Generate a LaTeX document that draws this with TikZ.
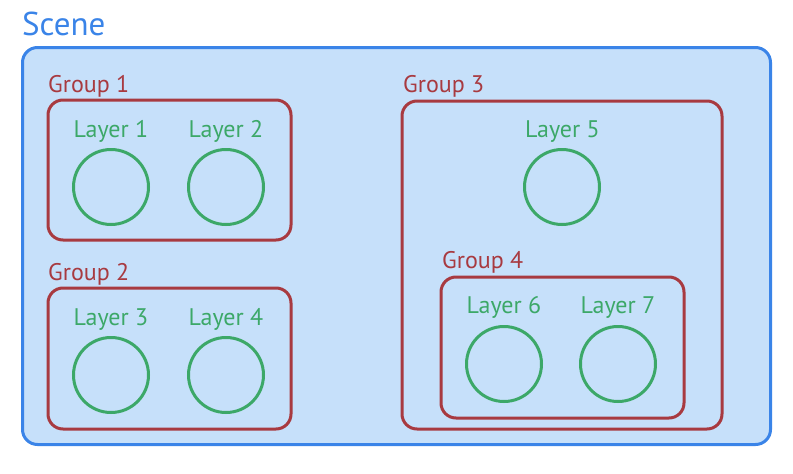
\documentclass[tikz,border=0pt]{standalone}
\usepackage{fontspec}
\setmainfont{PT Sans}
\definecolor{sceneblue}{RGB}{58,132,232}
\definecolor{scenefill}{RGB}{198,224,250}
\definecolor{groupred}{RGB}{168,58,64}
\definecolor{layergreen}{RGB}{60,168,104}
\begin{document}
\begin{tikzpicture}[x=1pt,y=-1pt,
  scenebox/.style={draw=sceneblue,fill=scenefill,line width=3pt,rounded corners=15pt,inner sep=0pt},
  groupbox/.style={draw=groupred,line width=3pt,rounded corners=15pt,inner sep=0pt},
  layercirc/.style={draw=layergreen,line width=3pt,circle,minimum size=75pt,inner sep=0pt},
  scenelabel/.style={text=sceneblue,anchor=base west,inner sep=0pt,font=\fontsize{33}{33}\selectfont},
  grouplabel/.style={text=groupred,anchor=base west,inner sep=0pt,font=\fontsize{24}{24}\selectfont},
  layerlabel/.style={text=layergreen,anchor=base,inner sep=0pt,font=\fontsize{24}{24}\selectfont}]
\useasboundingbox (0,0) rectangle (793,474);
\fill[white] (0,0) rectangle (793,474);
% scene
\node[scenebox,minimum width=748pt,minimum height=397pt] (scene) at (396.5,246) {};
\node[scenelabel] (scenelbl) at (22,35) {Scene};
% group 1
\node[groupbox,minimum width=243pt,minimum height=140pt] (g1) at (169.5,170) {};
\node[grouplabel] (g1lbl) at (48,92) {Group 1};
\node[layerlabel] (l1lbl) at (111,137) {Layer 1};
\node[layerlabel] (l2lbl) at (226,137) {Layer 2};
\node[layercirc] (l1) at (111,187) {};
\node[layercirc] (l2) at (226,187) {};
% group 2
\node[groupbox,minimum width=243pt,minimum height=141pt] (g2) at (169.5,358.5) {};
\node[grouplabel] (g2lbl) at (48,280) {Group 2};
\node[layerlabel] (l3lbl) at (111,325) {Layer 3};
\node[layerlabel] (l4lbl) at (226,325) {Layer 4};
\node[layercirc] (l3) at (111,375) {};
\node[layercirc] (l4) at (226,375) {};
% group 3
\node[groupbox,minimum width=320pt,minimum height=328pt] (g3) at (562,265) {};
\node[grouplabel] (g3lbl) at (403,92) {Group 3};
\node[layerlabel] (l5lbl) at (562.5,137) {Layer 5};
\node[layercirc] (l5) at (562,187) {};
% group 4
\node[groupbox,minimum width=243pt,minimum height=141pt] (g4) at (562.5,347.5) {};
\node[grouplabel] (g4lbl) at (442,268) {Group 4};
\node[layerlabel] (l6lbl) at (504,313) {Layer 6};
\node[layerlabel] (l7lbl) at (618,313) {Layer 7};
\node[layercirc] (l6) at (504,364) {};
\node[layercirc] (l7) at (618,364) {};
\end{tikzpicture}
\end{document}
